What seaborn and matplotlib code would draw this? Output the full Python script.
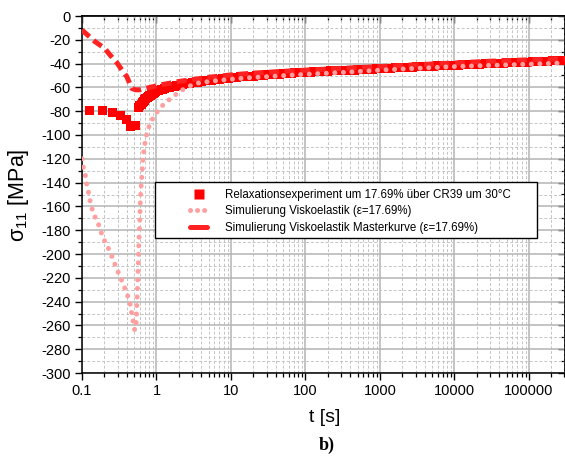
import matplotlib
matplotlib.use('Agg')
import matplotlib.pyplot as plt
import seaborn as sns
import pandas as pd
from matplotlib.lines import Line2D
from matplotlib.patches import Rectangle
from matplotlib.ticker import LogLocator, FuncFormatter, MultipleLocator, NullFormatter

# ---------------- data ----------------
exp_t = [0.128, 0.19, 0.256, 0.324, 0.39, 0.45, 0.52, 0.58,
         0.60, 0.62, 0.64, 0.66, 0.68, 0.70, 0.72, 0.75, 0.77, 0.80, 0.83, 0.87,
         0.90, 0.94, 0.97, 1.0, 1.07, 1.15, 1.22, 1.3, 1.4, 1.5, 1.6, 1.75, 1.85,
         2.0, 2.2, 2.5, 2.75, 3.0, 3.25, 3.5, 3.75, 4.0, 4.5, 5.0, 5.5, 6.0, 6.5,
         7.0, 7.7, 8.5, 9.2, 10, 11, 12, 13.5, 15, 17, 20, 22, 25, 27.5, 30, 35,
         40, 45, 50, 57, 65, 72, 80, 90, 100, 115, 130, 150, 170, 195, 220, 260,
         300, 350, 400, 450, 500, 600, 700, 800, 900, 1050, 1200, 1400, 1600,
         1800, 2000, 2300, 2700, 3100, 3500, 4000, 4500, 5200, 6000, 7000, 8000,
         9000, 10000, 11500, 13000, 15000, 17000, 19500, 22000, 26000, 30000,
         35000, 40000, 45000, 50000, 57000, 65000, 75000, 85000, 97000, 110000,
         125000, 140000, 160000, 180000, 205000, 230000, 265000, 300000]
exp_v = [-79, -79.6, -80.7, -83.5, -86.8, -93, -91.6, -77,
         -75.5, -74, -73, -72, -71, -70, -69.3, -68.5, -68, -67, -66.5, -66,
         -65.2, -64.5, -63.8, -63, -62.5, -62, -61.5, -61, -60.5, -60, -59.6, -59, -58.6,
         -58, -57.6, -57, -56.5, -56, -55.8, -55.5, -55.2, -55, -54.5, -54, -53.8, -53.5, -53.2,
         -53, -52.8, -52.5, -52.2, -52, -51.8, -51.5, -51.2, -51, -50.8, -50.5, -50.3, -50, -49.8, -49.5, -49.2,
         -49, -48.8, -48.5, -48.3, -48, -47.8, -47.6, -47.5, -47.3, -47.2, -47, -46.8, -46.6, -46.4, -46.2, -46,
         -45.8, -45.6, -45.5, -45.4, -45.2, -45, -44.8, -44.6, -44.4, -44.2, -44, -43.8, -43.6,
         -43.5, -43.3, -43.2, -43, -42.8, -42.6, -42.5, -42.3, -42.2, -42, -41.8, -41.6,
         -41.5, -41.3, -41.2, -41, -40.9, -40.7, -40.6, -40.4, -40.2, -40,
         -39.8, -39.7, -39.5, -39.4, -39.3, -39.1, -39, -38.8, -38.7, -38.5,
         -38.4, -38.2, -38, -37.9, -37.8, -37.6, -37.5, -37.3]

visko_t = [0.100, 0.104, 0.110, 0.113, 0.118, 0.123, 0.128, 0.139, 0.150, 0.161,
           0.171, 0.19, 0.238, 0.29, 0.34, 0.40, 0.44, 0.465, 0.49, 0.51,
           0.53, 0.54, 0.55, 0.56, 0.57, 0.577, 0.59, 0.60, 0.61, 0.63,
           0.645, 0.66, 0.70, 0.74, 0.82, 0.96, 1.1, 1.37, 1.9, 2.6, 3.8, 7.2,
           16, 30, 100, 300, 1000, 3000, 10000, 30000, 100000, 300000]
visko_v = [-120, -127, -132, -138, -144, -149, -155, -164, -169, -173,
           -177, -186, -198, -212, -222, -233, -241, -250, -258, -264,
           -261, -250, -236, -222, -208, -194, -180, -166, -152, -138,
           -129, -118, -107, -99, -90, -83, -77.5, -72, -65, -59.5, -56, -54,
           -52, -51, -49, -47.5, -45.5, -44, -42.5, -41.5, -40.5, -39.5]

master_t = [0.1, 0.15, 0.2, 0.26, 0.3, 0.34, 0.4, 0.465, 0.52, 0.6, 0.7, 0.82,
            1.1, 1.5, 2, 3, 5, 10, 20, 50, 100, 300, 1000, 3000, 10000, 30000,
            100000, 300000]
master_v = [-11.8, -21.6, -27, -35.6, -40, -45, -51, -60.8, -62, -62, -61, -60,
            -58, -56.5, -55, -53.5, -51.5, -49.5, -48, -46.5, -45.5, -44, -42.5,
            -41, -39.5, -38, -36.8, -35.8]

labels = ["Relaxationsexperiment um 17.69% über CR39 um 30°C",
          "Simulierung Viskoelastik (ε=17.69%)",
          "Simulierung Viskoelastik Masterkurve (ε=17.69%)"]

# ---------------- style ----------------
sns.set_theme(style='white')
plt.rcParams['font.family'] = ['Liberation Sans', 'DejaVu Sans']
plt.rcParams['axes.unicode_minus'] = False
plt.rcParams['mathtext.fontset'] = 'custom'
plt.rcParams['mathtext.rm'] = 'Liberation Sans'
plt.rcParams['mathtext.it'] = 'Liberation Sans'
plt.rcParams['mathtext.default'] = 'regular'

W, H = 565, 459
fig = plt.figure(figsize=(W / 100, H / 100), dpi=100)
fig.patch.set_facecolor('white')
ax = fig.add_axes([82 / W, 86 / H, (564.5 - 82) / W, 357 / H])
ax.set_facecolor('white')

RED = '#ff0000'
PINK = '#ffa0a0'
MRED = '#ff2222'

df_exp = pd.DataFrame({'t': exp_t, 'v': exp_v})
df_vis = pd.DataFrame({'t': visko_t, 'v': visko_v})
df_mas = pd.DataFrame({'t': master_t, 'v': master_v})

sns.scatterplot(data=df_exp, x='t', y='v', marker='s', s=42, color=RED,
                edgecolor='none', linewidth=0, ax=ax, zorder=3, legend=False)
sns.lineplot(data=df_mas, x='t', y='v', estimator=None, sort=False, color=MRED,
             linewidth=3.6, linestyle=(0, (2.0, 1.1)), dash_capstyle='butt',
             ax=ax, zorder=3.5, legend=False)
sns.lineplot(data=df_vis, x='t', y='v', estimator=None, sort=False, color=PINK,
             linewidth=3.6, linestyle=(0, (0.01, 1.7)), dash_capstyle='round',
             ax=ax, zorder=4, legend=False)

ax.set_xscale('log')
ax.set_xlim(0.1, 3e5)
ax.set_ylim(-300, 0)

ax.xaxis.set_major_locator(LogLocator(base=10, numticks=20))
ax.xaxis.set_minor_locator(LogLocator(base=10, subs=range(2, 10), numticks=20))
ax.xaxis.set_major_formatter(FuncFormatter(lambda v, p: '0.1' if v < 1 else f'{v:.0f}'))
ax.xaxis.set_minor_formatter(NullFormatter())
ax.yaxis.set_major_locator(MultipleLocator(20))
ax.yaxis.set_minor_locator(MultipleLocator(10))
ax.yaxis.set_major_formatter(FuncFormatter(lambda v, p: f'{v:.0f}'))

ax.set_axisbelow(True)
ax.grid(which='major', color='#b4b4b4', linewidth=1.1, linestyle='-')
ax.grid(which='minor', color='#c4c4c4', linewidth=0.7, linestyle=(0, (3, 2)))

for s in ax.spines.values():
    s.set_color('black')
    s.set_linewidth(1.1)
    s.set_visible(True)

ax.tick_params(which='major', direction='out', length=5, width=1.0, color='black',
               labelsize=10.5, labelcolor='black', pad=3,
               bottom=True, left=True, top=False, right=False)
ax.tick_params(which='minor', direction='out', length=3, width=0.9, color='black',
               bottom=True, left=True, top=False, right=False)
ax.set_xlabel('')
ax.set_ylabel('')

secx = ax.secondary_xaxis('top')
secx.xaxis.set_major_locator(LogLocator(base=10, numticks=20))
secx.xaxis.set_minor_locator(LogLocator(base=10, subs=range(2, 10), numticks=20))
secx.xaxis.set_major_formatter(NullFormatter())
secx.xaxis.set_minor_formatter(NullFormatter())
secx.tick_params(which='major', direction='in', length=5, width=1.0, color='black')
secx.tick_params(which='minor', direction='in', length=3, width=0.9, color='black')
secx.spines['top'].set_linewidth(1.1)
secx.spines['top'].set_color('black')

secy = ax.secondary_yaxis('right')
secy.yaxis.set_major_locator(MultipleLocator(20))
secy.yaxis.set_minor_locator(MultipleLocator(10))
secy.yaxis.set_major_formatter(NullFormatter())
secy.tick_params(which='major', direction='in', length=5, width=1.0, color='black')
secy.tick_params(which='minor', direction='in', length=3, width=0.9, color='black')
secy.spines['right'].set_linewidth(1.1)
secy.spines['right'].set_color('black')

# legend with manual frame
rect = Rectangle((155 / W, 1 - 237.7 / H), (536.7 - 155) / W, (237.7 - 181.7) / H,
                 transform=fig.transFigure, facecolor='white', edgecolor='black',
                 linewidth=1.0, zorder=8, clip_on=False)
ax.add_patch(rect)

h1 = Line2D([], [], linestyle='none', marker='s', markersize=6.5, color=RED, markeredgecolor='none')
h2 = Line2D([], [], color=PINK, linewidth=3.6, linestyle=(0, (0.01, 1.4)), dash_capstyle='round')
h3 = Line2D([], [], color=MRED, linewidth=3.6, solid_capstyle='round')
leg = ax.legend([h1, h2, h3], labels, loc='upper left',
                bbox_to_anchor=(190 / W, 1 - 189 / H), bbox_transform=fig.transFigure,
                frameon=False, fontsize=8.3, handlelength=1.5, handletextpad=1.5,
                labelspacing=0.38, borderpad=0, borderaxespad=0)
leg.set_zorder(10)
for t in leg.get_texts():
    t.set_color('black')

fig.text(325 / W, 1 - 418 / H, 't [s]', ha='center', va='center', fontsize=14, color='black')
fig.text(19 / W, 1 - 195 / H, 'σ$_{11}$ [MPa]', ha='center', va='center',
         rotation=90, fontsize=15.5, color='black')
fig.text(327 / W, 1 - 445 / H, 'b)', ha='center', va='center', fontsize=13,
         fontweight='bold', family=['Liberation Serif', 'DejaVu Serif'], color='black')

fig.savefig('out.png', dpi=100, facecolor='white')
